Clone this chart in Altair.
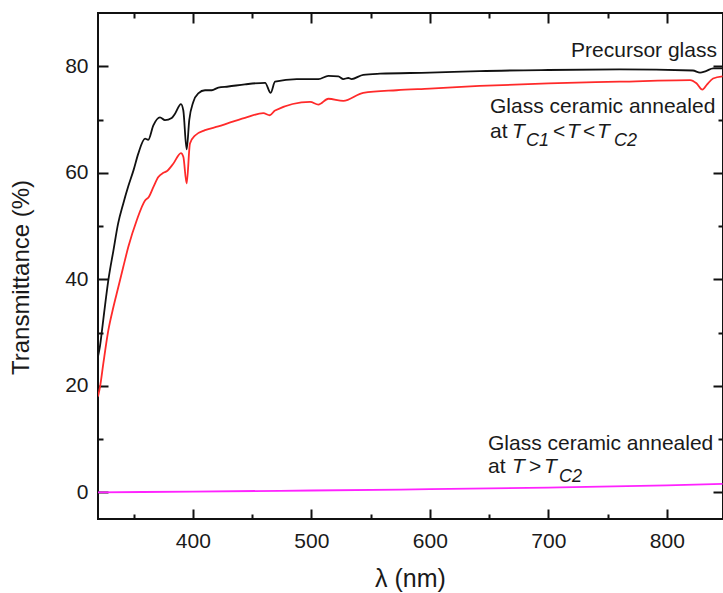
import altair as alt
import pandas as pd

# ---------------- data ----------------
series_names = ["Precursor glass", "Glass ceramic Tc1<T<Tc2", "Glass ceramic T>Tc2"]
series_colors = ["#111111", "#ff2a2a", "#ff22ff"]

nm_precursor = [320, 321.7, 324.5, 328.7, 333, 337, 341.3, 345.6, 350, 354, 359.7, 362.4,
                366.7, 372.3, 376.5, 382.2, 385, 390, 392, 394.8, 397, 400.4, 404.6, 410.3,
                416, 421.5, 430, 444, 461, 465.7, 469.4, 487.7, 506, 514.4, 522.8, 527,
                531.2, 534, 543.8, 558, 600, 642, 700, 760, 822, 828, 833, 839, 847]
t_precursor = [25.5, 27.5, 32.5, 39.8, 45.4, 50.5, 54.2, 57.5, 60.5, 63.6, 66.4, 66.2,
               68.9, 70.4, 69.9, 70.3, 71.1, 72.9, 71.7, 64.4, 69.9, 73.3, 74.9, 75.5,
               75.5, 76.0, 76.2, 76.6, 76.9, 75.0, 77.1, 77.6, 77.6, 78.2, 78.1, 77.6,
               77.8, 77.6, 78.4, 78.6, 78.8, 79.1, 79.3, 79.4, 79.2, 78.8, 79.1, 79.6, 79.6]

nm_gc1 = [320, 321.7, 324.5, 328.7, 333, 337, 341.3, 345.6, 352.7, 359.7, 363, 366.7,
          370.9, 375.1, 378, 383.5, 390, 392, 394.8, 397.6, 401.9, 410.3, 421.5, 431,
          444, 459.5, 465, 469.4, 499, 506, 514.4, 527, 543.8, 572, 600, 642, 700, 760,
          819.6, 825, 830, 834, 839, 847]
t_gc1 = [18.0, 19.8, 24.2, 30.4, 34.8, 38.4, 42.3, 46.1, 51.1, 54.8, 55.5, 57.3,
         59.2, 60.0, 60.3, 61.7, 63.7, 63.0, 58.0, 65.5, 67.0, 68.0, 68.7, 69.4,
         70.3, 71.2, 70.8, 71.7, 73.3, 72.8, 73.9, 73.5, 75.0, 75.5, 75.8, 76.3, 76.8,
         77.1, 77.4, 76.8, 75.6, 76.6, 77.7, 78.1]

nm_gc2 = [320, 400, 500, 600, 700, 800, 847]
t_gc2 = [0.0, 0.15, 0.35, 0.6, 0.9, 1.3, 1.6]

x_major = [400, 500, 600, 700, 800]
x_minor = [350, 450, 550, 650, 750]
y_major = [0, 20, 40, 60, 80]
y_minor = [10, 30, 50, 70]

# annotation fragments: position (nm, %), text, font size, style, alignment
ann_x = [842.3, 650.8, 650.8, 669.3, 681.2, 703.9, 715.7, 729.2, 741.1, 755.4,
         649.1, 649.1, 669.3, 683.7, 696.3, 709.0]
ann_y = [81.7, 71.2, 66.5, 66.5, 65.0, 66.5, 66.5, 66.5, 66.5, 65.0,
         7.9, 3.6, 3.6, 3.6, 3.6, 1.9]
ann_text = ["Precursor glass", "Glass ceramic annealed", "at", "T", "C1", "<", "T", "<", "T", "C2",
            "Glass ceramic annealed", "at", "T", ">", "T", "C2"]
ann_size = [21, 21, 21, 21, 18, 21, 21, 21, 21, 18,
            21, 21, 21, 21, 21, 18]
ann_style = ["normal", "normal", "normal", "italic", "italic", "normal", "italic", "normal", "italic", "italic",
             "normal", "normal", "italic", "normal", "italic", "italic"]
ann_align = ["right", "left", "left", "left", "left", "left", "left", "left", "left", "left",
             "left", "left", "left", "left", "left", "left"]

# ---------------- tables ----------------
rows = []
for name, xs_, ys_ in zip(series_names, [nm_precursor, nm_gc1, nm_gc2], [t_precursor, t_gc1, t_gc2]):
    for a, b in zip(xs_, ys_):
        rows.append({"nm": a, "T": b, "series": name})
df = pd.DataFrame(rows)

ann = pd.DataFrame({"nm": ann_x, "T": ann_y, "text": ann_text, "size": ann_size,
                    "style": ann_style, "align": ann_align})

FONT = "Liberation Sans"
TXT = "#1a1a1a"
W, H = 625, 506
xscale = alt.Scale(domain=[320, 320 + W / 1.1851], nice=False, zero=False)
yscale = alt.Scale(domain=[-5, 90], nice=False, zero=False)

lines = alt.Chart(df).mark_line(strokeWidth=1.8, clip=True, interpolate="monotone").encode(
    x=alt.X("nm:Q", scale=xscale,
            axis=alt.Axis(orient="bottom", values=x_major, ticks=False, tickSize=0, domain=False,
                          grid=False, labelPadding=11, labelFontSize=21, title="λ (nm)",
                          titleFontSize=25, titleX=312, titleY=59, titleAlign="center",
                          titleBaseline="middle")),
    y=alt.Y("T:Q", scale=yscale,
            axis=alt.Axis(orient="left", values=y_major, ticks=False, tickSize=0, domain=False,
                          grid=False, labelPadding=10, labelFontSize=21,
                          title="Transmittance (%)", titleFontSize=24, titleX=-77, titleY=264,
                          titleAngle=270, titleAlign="center", titleBaseline="middle")),
    color=alt.Color("series:N", scale=alt.Scale(domain=series_names, range=series_colors), legend=None),
    detail="series:N",
)


def tick_layer(channel, orient, values, size):
    ax = alt.Axis(orient=orient, values=values, labels=False, domain=False, grid=False,
                  ticks=True, tickSize=size, offset=-size, tickWidth=2, tickColor="#111111",
                  title="")
    if channel == "x":
        enc = dict(x=alt.X("nm:Q", scale=xscale, axis=ax),
                   y=alt.Y("T:Q", scale=yscale, axis=None))
    else:
        enc = dict(x=alt.X("nm:Q", scale=xscale, axis=None),
                   y=alt.Y("T:Q", scale=yscale, axis=ax))
    return alt.Chart(df).mark_point(opacity=0).encode(**enc)


ticks = [
    tick_layer("x", "bottom", x_major, 10), tick_layer("x", "bottom", x_minor, 5),
    tick_layer("x", "top", x_major, 10), tick_layer("x", "top", x_minor, 5),
    tick_layer("y", "left", y_major, 10), tick_layer("y", "left", y_minor, 5),
    tick_layer("y", "right", y_major, 10), tick_layer("y", "right", y_minor, 5),
]


def text_layer(style, align):
    return alt.Chart(ann).transform_filter(
        (alt.datum.style == style) & (alt.datum.align == align)
    ).mark_text(font=FONT, fontStyle=style, align=align, baseline="alphabetic", color=TXT).encode(
        x=alt.X("nm:Q", scale=xscale, axis=None),
        y=alt.Y("T:Q", scale=yscale, axis=None),
        text="text:N",
        size=alt.Size("size:Q", scale=None),
    )


texts = [text_layer("normal", "left"), text_layer("italic", "left"), text_layer("normal", "right")]

chart = alt.layer(lines, *ticks, *texts).resolve_axis(
    x="independent", y="independent"
).properties(
    width=W, height=H,
    autosize=alt.AutoSizeParams(type="none"),
    padding={"left": 98, "top": 13, "right": 0, "bottom": 74},
).configure_axis(
    labelFont=FONT, titleFont=FONT, labelColor=TXT, titleColor=TXT,
    titleFontWeight="normal",
).configure_view(
    stroke="#111111", strokeWidth=2,
)

chart.save("out.html", embed_options={"renderer": "svg", "actions": False})
